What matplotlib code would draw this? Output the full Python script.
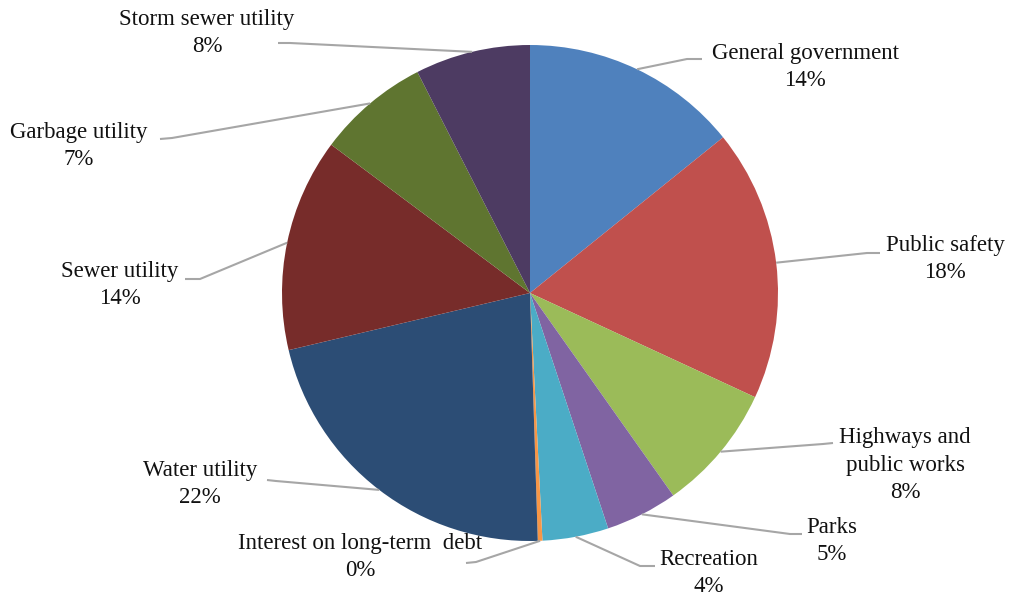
import numpy as np
import matplotlib
matplotlib.use("Agg")
import matplotlib.pyplot as plt

plt.rcParams['font.family'] = ['Liberation Serif', 'DejaVu Serif']

# slices, clockwise from 12 o'clock (percent of total)
categories = ["General government", "Public safety", "Highways and\npublic works",
              "Parks", "Recreation", "Interest on long-term  debt", "Water utility",
              "Sewer utility", "Garbage utility", "Storm sewer utility"]
shares = [14.2, 17.7, 8.3, 4.7, 4.3, 0.3, 21.8, 13.9, 7.3, 7.5]
colors = ["#4F81BD", "#C0504D", "#9BBB59", "#8064A2", "#4BACC6",
          "#F79646", "#2C4D75", "#772C2A", "#5F7530", "#4D3B62"]

W, H = 1011, 597
fy = lambda y: H - y  # image px (top-down) -> data y

# label layout in image pixels: text centre, text-side end of leader, elbow
text_pos = [(805, 67), (945, 259), (905, 465), (832, 541), (709, 573),
            (360, 557), (200, 484), (120, 285), (79, 146), (207, 33)]
leader_ends = [((702, 59), (687, 59)), ((880, 253), (867, 253)),
               ((833, 443), (823, 444)), ((802, 534), (790, 534)),
               ((655, 566), (640, 566)), ((466, 563), (476, 562)),
               ((267, 480), (276, 481)), ((185, 279), (200, 279)),
               ((160, 139), (172, 138)), ((278, 43), (290, 43))]

fig = plt.figure(figsize=(W / 100, H / 100), dpi=100)
ax = fig.add_axes([0, 0, 1, 1])

cx, cy, r = 530, fy(293), 248
wedges, _ = ax.pie(shares, colors=colors, startangle=90, counterclock=False,
                   center=(cx, cy), radius=r,
                   wedgeprops=dict(linewidth=0))

for i, w in enumerate(wedges):
    mid = np.deg2rad((w.theta1 + w.theta2) / 2)
    px, py = cx + r * np.cos(mid), cy + r * np.sin(mid)
    (ex, ey), (bx, by) = leader_ends[i]
    ax.plot([ex, bx, px], [fy(ey), fy(by), py], color="#A6A6A6", lw=1.5,
            solid_capstyle="butt", zorder=1)
    tx, ty = text_pos[i]
    pct = int(shares[i] + 0.5)
    ax.text(tx, fy(ty), f"{categories[i]}\n{pct}%", ha="center", va="center",
            fontsize=16.5, linespacing=1.42, color="#111111")

ax.set_xlim(0, W)
ax.set_ylim(0, H)
ax.set_aspect("auto")
ax.axis("off")

fig.savefig("out.png", dpi=100, facecolor="white")
